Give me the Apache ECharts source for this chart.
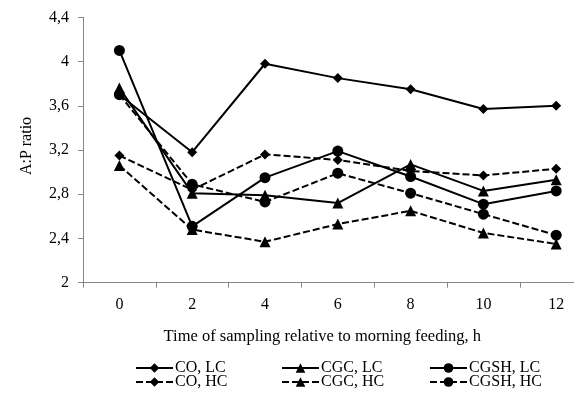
<!DOCTYPE html>
<html><head><meta charset="utf-8">
<script src="https://cdn.jsdelivr.net/npm/echarts@6/dist/echarts.min.js"></script>
<style>html,body{margin:0;padding:0;background:#fff}#c{width:574px;height:397px}</style>
</head><body><div id="c"></div>
<script>
const categories = ['0', '2', '4', '6', '8', '10', '12'];
const coLC   = [3.70, 3.18, 3.98, 3.85, 3.75, 3.57, 3.60];
const cgcLC  = [3.76, 2.81, 2.79, 2.72, 3.07, 2.83, 2.93];
const cgshLC = [4.10, 2.51, 2.95, 3.19, 2.96, 2.71, 2.83];
const coHC   = [3.15, 2.84, 3.16, 3.11, 3.01, 2.97, 3.03];
const cgcHC  = [3.06, 2.48, 2.37, 2.53, 2.65, 2.45, 2.35];
const cgshHC = [3.70, 2.89, 2.73, 2.99, 2.81, 2.62, 2.43];
const seriesNames = ['CO, LC', 'CGC, LC', 'CGSH, LC', 'CO, HC', 'CGC, HC', 'CGSH, HC'];
const yMin = 2, yMax = 4.4, yStep = 0.4;

const FONT = 'Liberation Serif';
const seriesData = [coLC, cgcLC, cgshLC, coHC, cgcHC, cgshHC];
const symbols = ['diamond', 'triangle', 'circle', 'diamond', 'triangle', 'circle'];
const sizes = [10, 11, 11, 10, 11, 11];
const dashed = [false, false, false, true, true, true];

const series = seriesData.map((d, i) => ({
  name: seriesNames[i], type: 'line', data: d,
  symbol: symbols[i], symbolSize: sizes[i], showAllSymbol: true,
  lineStyle: {color: '#000', width: 2, type: dashed[i] ? [7, 3] : 'solid'},
  itemStyle: {color: '#000', borderWidth: 0},
  emphasis: {disabled: true}, animation: false
}));

const legPos = [[135, 360], [281, 360], [429, 360], [135, 374], [281, 374], [429, 374]];
const legends = seriesNames.map((n, i) => ({
  data: [n], left: legPos[i][0], top: legPos[i][1], padding: 0,
  itemWidth: 37, itemHeight: 12, itemGap: 2,
  textStyle: {fontFamily: FONT, fontSize: 16, color: '#000', padding: [0, 0, 0, -3]},
  selectedMode: false
}));

const chart = echarts.init(document.getElementById('c'));
chart.setOption({
  animation: false,
  grid: {left: 83, top: 17.3, width: 509.6, height: 265.4, containLabel: false, outerBoundsMode: 'none'},
  legend: legends,
  xAxis: {
    type: 'category', data: categories, boundaryGap: true,
    name: 'Time of sampling relative to morning feeding, h', nameLocation: 'middle', nameGap: 45,
    nameTextStyle: {fontFamily: FONT, fontSize: 16.5, color: '#000', padding: [0, 31, 0, 0]},
    axisLine: {lineStyle: {color: '#868686', width: 1}},
    axisTick: {show: true, length: 5, alignWithLabel: false, lineStyle: {color: '#868686'}},
    axisLabel: {fontFamily: FONT, fontSize: 16, color: '#000', margin: 14}
  },
  yAxis: {
    type: 'value', min: yMin, max: yMax, interval: yStep,
    name: 'A:P ratio', nameLocation: 'middle', nameGap: 48, nameRotate: 90,
    nameTextStyle: {fontFamily: FONT, fontSize: 16, color: '#000', padding: [0, 0, 0, 8]},
    axisLine: {show: true, lineStyle: {color: '#868686', width: 1}},
    axisTick: {show: true, length: 5, lineStyle: {color: '#868686'}},
    splitLine: {show: false},
    axisLabel: {fontFamily: FONT, fontSize: 16, color: '#000', margin: 14,
      formatter: v => (+v.toFixed(1)).toString().replace('.', ',')}
  },
  series: series
});
</script></body></html>
